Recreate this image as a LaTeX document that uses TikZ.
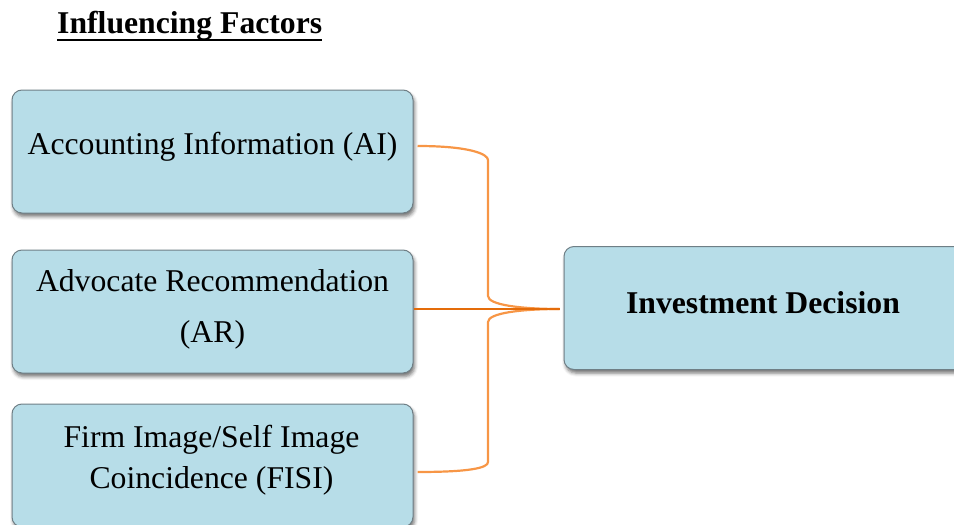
\documentclass[tikz,border=0pt]{standalone}
\usepackage{fontspec}
\setmainfont{Liberation Serif}
\usetikzlibrary{shadows.blur,calc}
\definecolor{boxfill}{HTML}{B7DDE8}
\definecolor{boxedge}{HTML}{6F7F86}
\definecolor{linkorange}{HTML}{F79646}
\definecolor{maindark}{HTML}{E46C0A}
\tikzset{
  factor/.style={draw=boxedge, line width=1pt, fill=boxfill,
    rounded corners=10pt, minimum width=401pt, minimum height=123pt,
    inner sep=0pt,
    blur shadow={shadow xshift=1.5pt, shadow yshift=-3.5pt,
      shadow blur radius=3.5pt, shadow opacity=55}},
  boxtext/.style={anchor=base, inner sep=0pt,
    font=\fontsize{31.7}{36}\selectfont},
  boldtext/.style={boxtext, font=\fontsize{31.7}{36}\selectfont\bfseries},
  link/.style={draw=linkorange, line width=2.2pt},
  mainlink/.style={draw=maindark, line width=2.6pt},
}
\begin{document}
\begin{tikzpicture}[x=1pt, y=-1pt]
  \useasboundingbox (0,0) rectangle (954,525);
  \clip (0,0) rectangle (954,525);

  % heading
  \node[boldtext, anchor=base west] (title) at (57,33) {Influencing Factors};
  \draw[line width=2.5pt] ([yshift=-7pt]title.base west) -- ([yshift=-7pt]title.base east);

  % factor boxes
  \node[factor] (ai)   at (212.5,151.5) {};
  \node[factor] (ar)   at (212.5,311.5) {};
  \node[factor] (fisi) at (212.5,465.5) {};
  \node[factor] (dec)  at (764.5,308)   {};

  \node[boxtext] (aiA)   at (212.5,154) {Accounting Information (AI)};
  \node[boxtext] (arA)   at (212.5,291) {Advocate Recommendation};
  \node[boxtext] (arB)   at (212.5,342) {(AR)};
  \node[boxtext] (fisiA) at (211.5,447) {Firm Image/Self Image};
  \node[boxtext] (fisiB) at (211.5,488) {Coincidence (FISI)};
  \node[boldtext] (decA) at (763,313)   {Investment Decision};

  % connectors merging into the decision box
  \coordinate (join)    at ($(dec.west)+(-4,1)$);
  \coordinate (aiout)   at ($(ai.east)+(4,-5.5)$);
  \coordinate (fisiout) at ($(fisi.east)+(4,6.5)$);

  \draw[link] (aiout) .. controls +(52,0) and +(0,-6) .. (488,160)
    -- (488,296) .. controls +(0,9) and +(-38,0) .. (join);
  \draw[link] (fisiout) .. controls +(52,0) and +(0,6) .. (488,462)
    -- (488,322) .. controls +(0,-9) and +(-38,0) .. (join);
  \draw[mainlink] (ar.east |- join) -- (join);
\end{tikzpicture}
\end{document}
